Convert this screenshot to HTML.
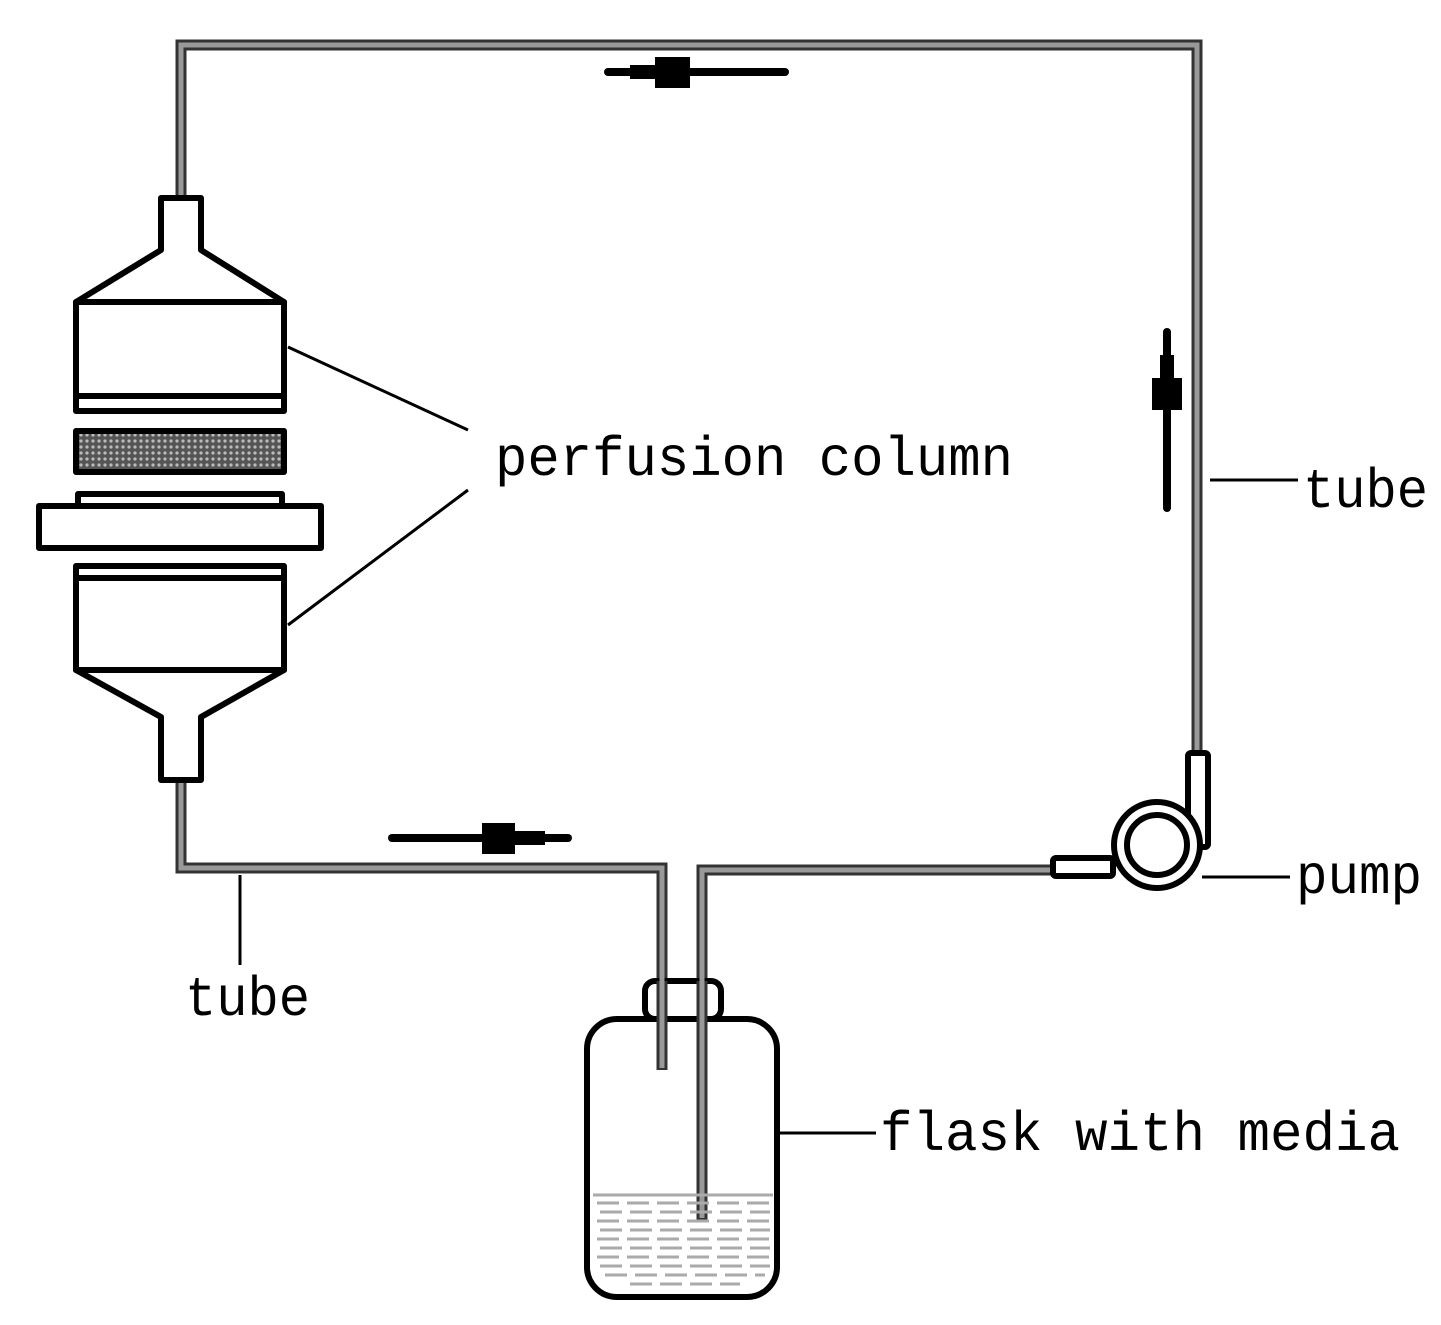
<!DOCTYPE html>
<html><head><meta charset="utf-8"><style>html,body{margin:0;padding:0;background:#fff}svg{display:block}</style></head>
<body>
<svg width="1441" height="1325" viewBox="0 0 1441 1325" xmlns="http://www.w3.org/2000/svg">
<defs>
<pattern id="mesh" width="6" height="6" patternUnits="userSpaceOnUse">
<rect width="6" height="6" fill="#555"/><circle cx="3" cy="3" r="1.6" fill="#bbb"/>
</pattern>
</defs>
<g fill="none" stroke-linejoin="miter">
<!-- tubes: outer dark, inner grey -->
<g stroke="#333" stroke-width="11">
<polyline points="181,200 181,45 1197,45 1197,755"/>
<polyline points="181,780 181,868 662,868 662,1070"/>
<polyline points="1055,870 702,870 702,1220"/>
</g>
<g stroke="#999" stroke-width="5">
<polyline points="181,200 181,45 1197,45 1197,755"/>
<polyline points="181,780 181,868 662,868 662,1068"/>
<polyline points="1055,870 702,870 702,1218"/>
</g>
</g>
<!-- column -->
<g fill="#fff" stroke="#000" stroke-width="6" stroke-linejoin="round">
<path d="M161,198 H201 V250 L284,302 H76 L161,250 Z"/>
<rect x="76" y="302" width="208" height="109"/>
<line x1="76" y1="396" x2="284" y2="396"/>
<rect x="76" y="431" width="208" height="41" fill="url(#mesh)"/>
<rect x="78" y="494" width="204" height="12"/>
<rect x="39" y="506" width="282" height="42"/>
<rect x="76" y="566" width="208" height="104"/>
<line x1="76" y1="578" x2="284" y2="578"/>
<path d="M76,670 H284 L201,717 V780 H161 V717 Z"/>
</g>
<!-- flask -->
<g stroke="#000" stroke-width="6" fill="none">
<rect x="645" y="981" width="76" height="38" rx="10" fill="#fff"/>
<rect x="587" y="1019" width="190" height="278" rx="30"/>
</g>
<g stroke="#333" stroke-width="11"><line x1="662" y1="981" x2="662" y2="1070"/><line x1="702" y1="981" x2="702" y2="1220"/></g>
<g stroke="#999" stroke-width="5"><line x1="662" y1="978" x2="662" y2="1068"/><line x1="702" y1="978" x2="702" y2="1218"/></g>
<g stroke="#aaa" stroke-width="3" stroke-dasharray="22,8">
<line x1="593" y1="1195" x2="773" y2="1195" stroke-dasharray="none"/>
<line x1="597" y1="1203" x2="770" y2="1203"/>
<line x1="600" y1="1212" x2="770" y2="1212"/>
<line x1="597" y1="1221" x2="770" y2="1221"/>
<line x1="600" y1="1230" x2="770" y2="1230"/>
<line x1="597" y1="1239" x2="770" y2="1239"/>
<line x1="600" y1="1248" x2="770" y2="1248"/>
<line x1="597" y1="1257" x2="770" y2="1257"/>
<line x1="600" y1="1266" x2="770" y2="1266"/>
<line x1="605" y1="1275" x2="765" y2="1275"/>
<line x1="630" y1="1284" x2="740" y2="1284"/>
</g>
<!-- pump -->
<g stroke="#000" stroke-width="6" fill="#fff">
<rect x="1053" y="858" width="60" height="18" rx="3"/>
<rect x="1188" y="753" width="20" height="94" rx="3"/>
<circle cx="1157" cy="845" r="43"/>
<circle cx="1157" cy="845" r="30"/>
</g>
<!-- flow arrows -->
<g fill="#000" stroke="#000" stroke-linecap="round">
<line x1="608" y1="72" x2="785" y2="72" stroke-width="8"/>
<path d="M630,65 H655 V57 H690 V88 H655 V79 H630 Z" stroke="none"/>
<line x1="392" y1="838" x2="568" y2="838" stroke-width="8"/>
<path d="M545,831 H515 V823 H482 V854 H515 V845 H545 Z" stroke="none"/>
<line x1="1167" y1="332" x2="1167" y2="508" stroke-width="8"/>
<path d="M1160,355 V378 H1152 V410 H1182 V378 H1174 V355 Z" stroke="none"/>
</g>
<!-- leader lines -->
<g stroke="#000" stroke-width="3">
<line x1="288" y1="347" x2="468" y2="430"/>
<line x1="288" y1="625" x2="468" y2="490"/>
<line x1="1210" y1="480" x2="1298" y2="480"/>
<line x1="1202" y1="877" x2="1290" y2="877"/>
<line x1="240" y1="875" x2="240" y2="965"/>
<line x1="780" y1="1133" x2="876" y2="1133"/>
</g>
<g font-family="Liberation Mono, monospace" font-size="56" fill="#000">
<text x="495" y="475" textLength="518" lengthAdjust="spacingAndGlyphs">perfusion column</text>
<text x="1303" y="507" textLength="125" lengthAdjust="spacingAndGlyphs">tube</text>
<text x="1296" y="893" textLength="126" lengthAdjust="spacingAndGlyphs">pump</text>
<text x="185" y="1015" textLength="125" lengthAdjust="spacingAndGlyphs">tube</text>
<text x="880" y="1150" textLength="520" lengthAdjust="spacingAndGlyphs">flask with media</text>
</g>
</svg>
</body></html>
